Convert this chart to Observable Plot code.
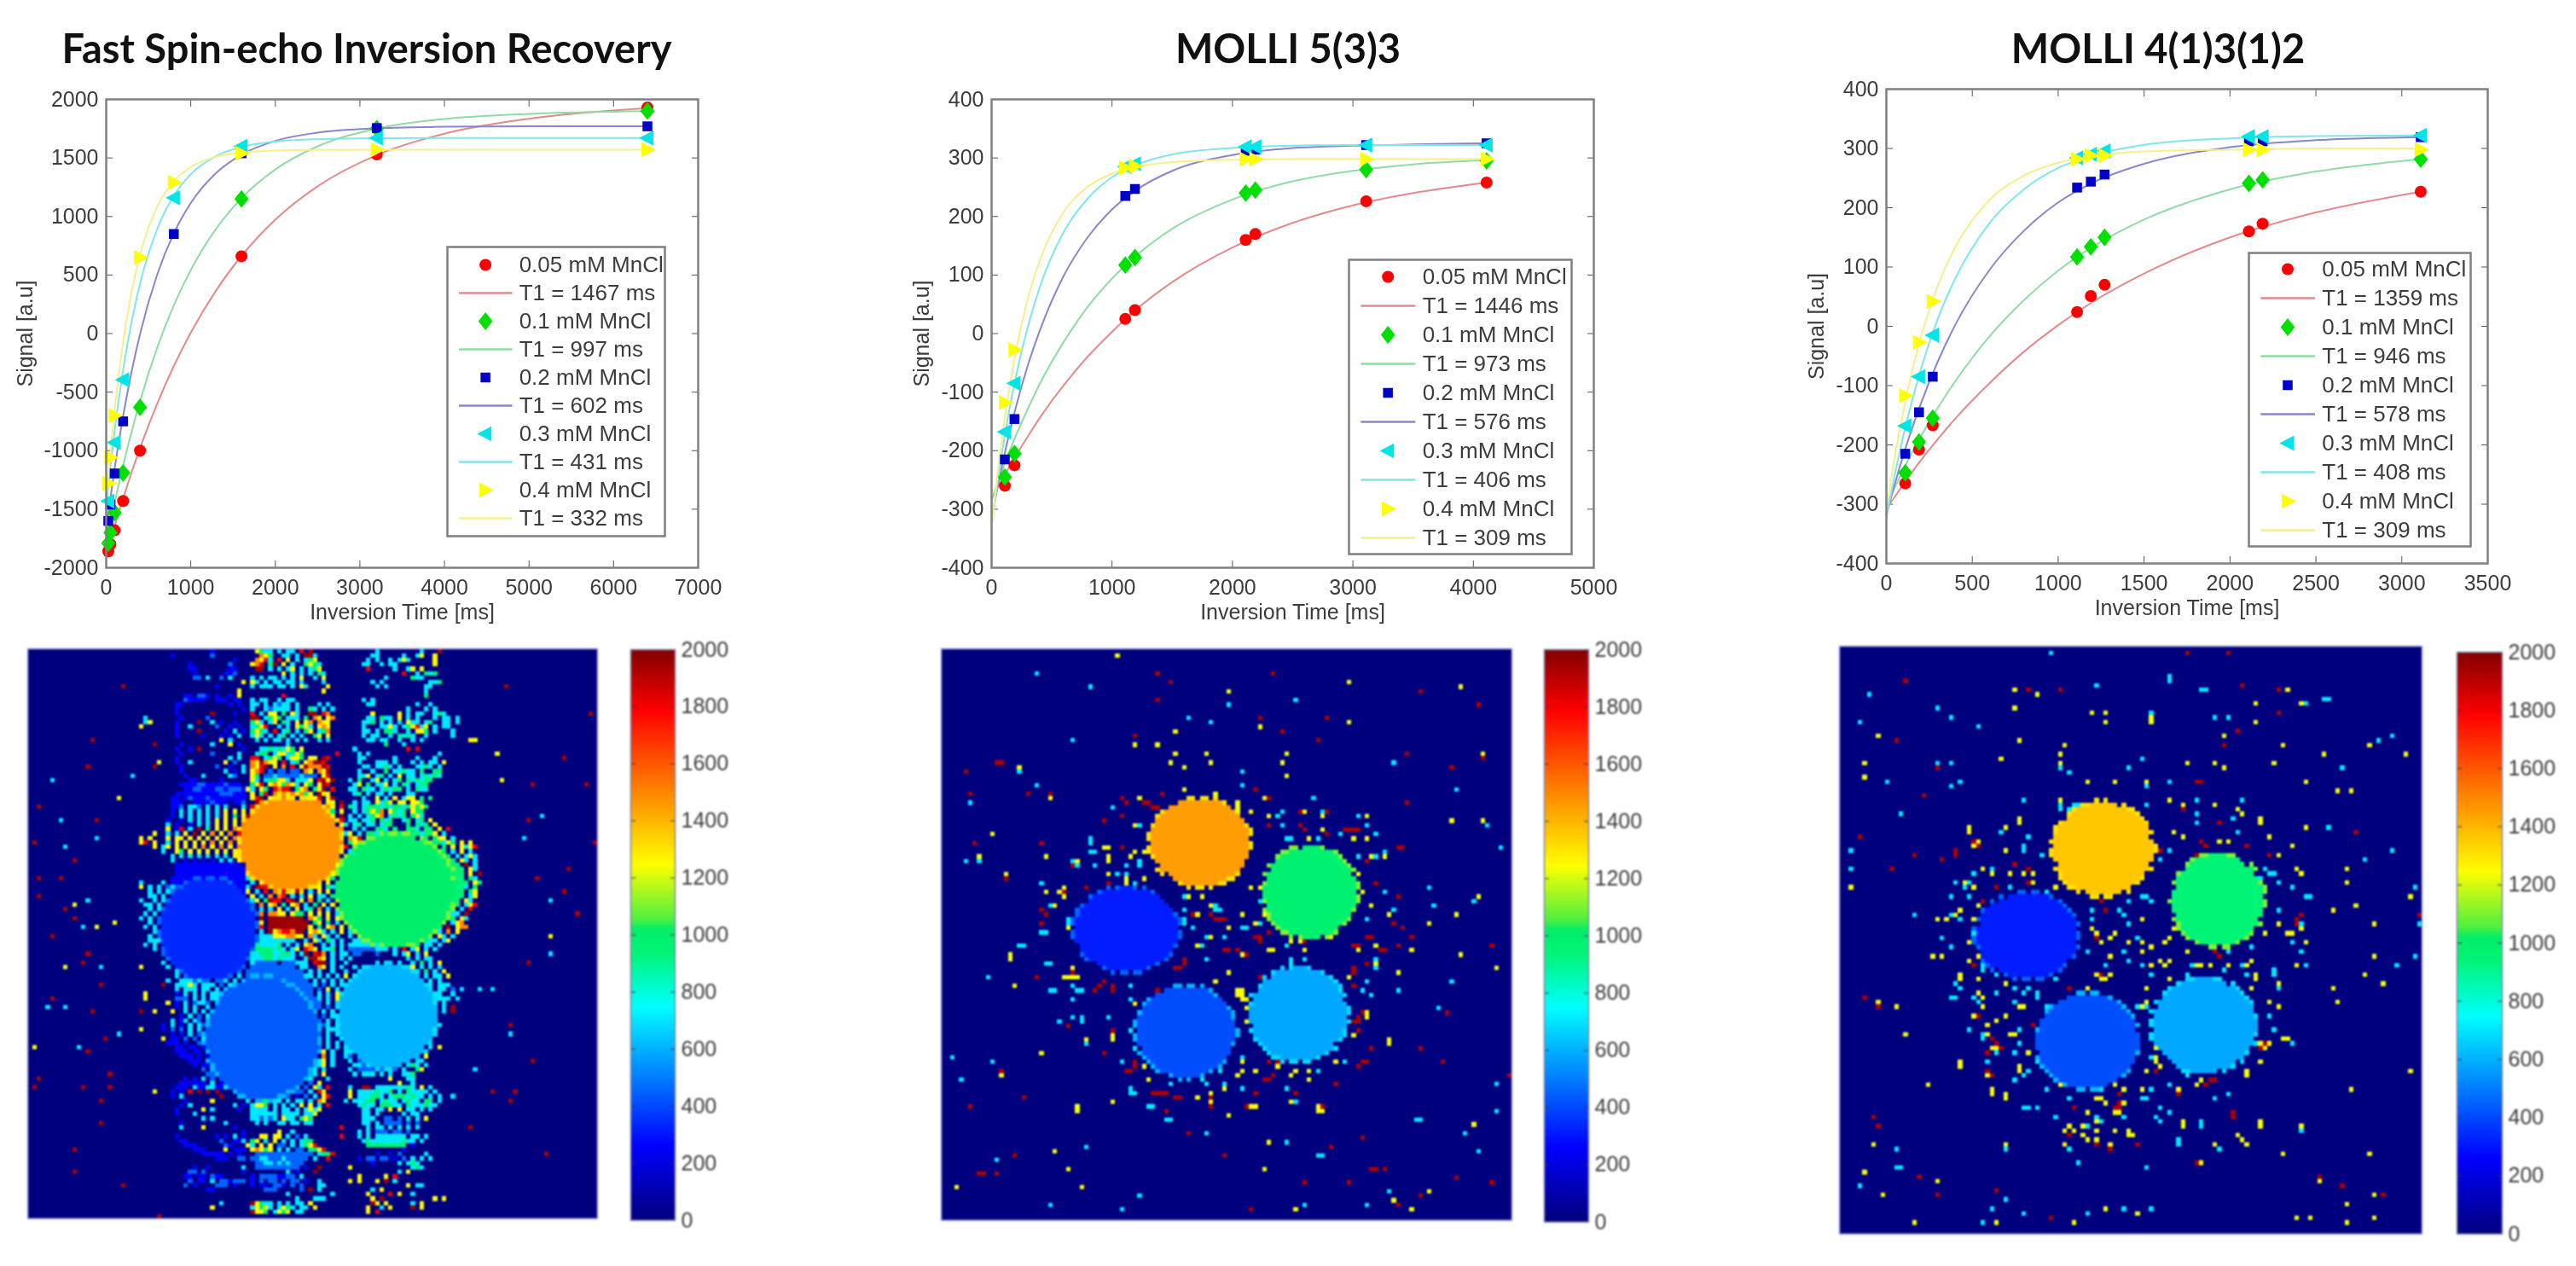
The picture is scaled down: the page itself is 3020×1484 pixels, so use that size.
<!DOCTYPE html>
<html><head><meta charset="utf-8">
<script src="https://cdn.jsdelivr.net/npm/d3@7"></script>
<script src="https://cdn.jsdelivr.net/npm/@observablehq/plot@0.6"></script>
<style>
html,body{margin:0;padding:0;background:#fff}
#page{position:relative;width:3020px;height:1484px;overflow:hidden;background:#fff}
#page svg{position:absolute;background:transparent;overflow:visible}
.title{position:absolute;top:28px;font:700 47px Lato,"Open Sans",sans-serif;color:#111;white-space:nowrap;transform:translateX(-50%);filter:blur(.5px)}
</style></head><body><div id="page"></div>
<script>
// ---------- shared labels and colours ----------
const concentrations=["0.05 mM MnCl","0.1 mM MnCl","0.2 mM MnCl","0.3 mM MnCl","0.4 mM MnCl"];
const markerColors=["#ff0000","#00e000","#0000c8","#00e6e6","#ffff00"];
const lineColors=["#e58a8a","#8fdca6","#8a86cc","#7fe6ea","#f7ef8a"];
const colorStops=[0,256,744,930,1015,1050,1240,1780,2000];
const colorRange=["#00007f","#0000ff","#00ffff","#00f578","#00ee68","#50f040","#ffff00","#ff0000","#7f0000"];
const colorbarTicks=[0,200,400,600,800,1000,1200,1400,1600,1800,2000];

// ---------- Fast Spin-echo IR ----------
const fseTitle="Fast Spin-echo Inversion Recovery";
const fseT1=[1467,997,602,431,332];
const fseXTicks=[0,1000,2000,3000,4000,5000,6000,7000];
const fseYTicks=[-2000,-1500,-1000,-500,0,500,1000,1500,2000];
const fseDotTimes=[25,50,100,200,400,800,1600,3200,6400];
const fseDots05=[-1860,-1800,-1680,-1430,-1000,null,660,1530,1930];
const fseDots01=[-1790,-1700,-1530,-1190,-630,null,1150,1750,1900];
const fseDots02=[-1600,-1460,-1195,-750,null,850,1540,1755,1770];
const fseDots03=[-1430,null,-930,-395,null,1160,1600,1670,1670];
const fseDots04=[-1280,-1060,-700,null,650,1290,1540,1570,1570];
const fseCurveTimes=[0,50,100,200,300,400,600,800,1000,1300,1600,2000,2500,3200,4000,5000,6400];
const fseCurve05=[-1900,-1771,-1646,-1408,-1186,-979,-604,-277,8,369,663,973,1258,1524,1707,1835,1925];
const fseCurve01=[-1800,-1619,-1447,-1127,-839,-577,-127,241,543,895,1157,1402,1599,1751,1833,1876,1900];
const fseCurve02=[-1680,-1405,-1152,-705,-326,-5,497,857,1115,1372,1528,1646,1716,1753,1766,1770,1770];
const fseCurve03=[-1480,-1135,-828,-310,100,425,887,1178,1360,1516,1593,1640,1660,1668,1670,1670,1670];
const fseCurve04=[-1430,-1011,-650,-72,355,671,1078,1301,1422,1510,1546,1563,1568,1570,1570,1570,1570];

// ---------- MOLLI 5(3)3 ----------
const m53Title="MOLLI 5(3)3";
const m53T1=[1446,973,576,406,309];
const m53XTicks=[0,1000,2000,3000,4000,5000];
const m53YTicks=[-400,-300,-200,-100,0,100,200,300,400];
const m53DotTimes=[110,190,1110,1190,2110,2190,3110,4110];
const m53Dots05=[-260,-225,25,40,160,170,226,258];
const m53Dots01=[-245,-205,117,130,240,245,280,295];
const m53Dots02=[-215,-146,235,247,312,314,322,325];
const m53Dots03=[-168,-85,285,290,319,319,322,322];
const m53Dots04=[-118,-28,283,286,298,298,298,298];
const m53CurveTimes=[0,50,100,200,300,400,600,800,1000,1200,1500,2000,2500,3000,3500,4110];
const m53Curve05=[-283,-263,-245,-209,-176,-144,-88,-39,3,41,88,147,189,219,240,258];
const m53Curve01=[-285,-255,-227,-175,-129,-86,-14,46,94,133,179,229,260,278,289,296];
const m53Curve02=[-315,-262,-213,-127,-55,5,99,165,212,245,278,305,317,321,323,325];
const m53Curve03=[-328,-253,-186,-75,11,79,174,231,267,288,306,317,321,322,322,322];
const m53Curve04=[-332,-238,-158,-32,59,125,208,251,273,285,293,297,298,298,298,298];

// ---------- MOLLI 4(1)3(1)2 ----------
const m41Title="MOLLI 4(1)3(1)2";
const m41T1=[1359,946,578,408,309];
const m41XTicks=[0,500,1000,1500,2000,2500,3000,3500];
const m41YTicks=[-400,-300,-200,-100,0,100,200,300,400];
const m41DotTimes=[110,190,270,1110,1190,1270,2110,2190,3110];
const m41Dots05=[-265,-208,-167,24,51,70,160,173,227];
const m41Dots01=[-247,-195,-155,117,134,150,241,247,282];
const m41Dots02=[-215,-145,-85,234,244,256,312,312,319];
const m41Dots03=[-168,-85,-15,284,290,296,320,320,322];
const m41Dots04=[-117,-27,42,282,288,288,298,298,298];
const m41CurveTimes=[0,50,100,200,300,400,600,800,1000,1200,1500,2000,2500,3110];
const m41Curve05=[-308,-287,-266,-226,-190,-156,-96,-43,2,41,89,150,192,227];
const m41Curve01=[-302,-271,-241,-186,-137,-93,-17,44,94,134,180,231,261,282];
const m41Curve02=[-318,-265,-216,-131,-59,2,95,161,209,242,274,302,314,319];
const m41Curve03=[-323,-249,-183,-73,13,80,174,231,267,288,306,317,321,322];
const m41Curve04=[-310,-219,-142,-19,69,133,213,254,276,287,295,298,300,300];

// ---------- T1 maps (128 x 128): discs hold the fitted T1 of each tube ----------
const fseDiscCols=[59,82.5,40.6,52.7,80.7];
const fseDiscRows=[43.8,54.2,63,87.5,82.5];
const fseDiscRx=[11.5,13.2,10.7,12.5,11];
const fseDiscRy=[10.3,12.5,11.5,13.5,11.5];
const m53DiscCols=[58.1,82.7,41.5,54.9,80.1];
const m53DiscRows=[43.3,54.5,62.8,85.7,81.9];
const m53DiscRx=[11.2,10.4,11.6,11,10.8];
const m53DiscRy=[9.8,10.2,9.4,10.2,10.5];
const m41DiscCols=[57.9,83.2,41.3,54.5,80.1];
const m41DiscRows=[44.2,55.3,63,86,82.6];
const m41DiscRx=[10.9,10,11.2,11.2,11.5];
const m41DiscRy=[10.1,10,9.3,10.2,10.2];
const discRimValues=[1300,1100,450,600,680];

// value of each character of the hand-read noise strips
const noiseKey={a:250,b:450,c:700,g:950,y:1250,o:1500,r:1800,d:1950};
// Left strip = columns 25.., middle strip = columns 49.., right strip = columns 71.. (rows 0..127)
const fseNoise=[
"................a.......|..ygcc.c.cc.r.d.......|.......c.........c...d.......",
".......a........b.......|...oyg..cc.c.ddc......|......cc.....c..cy..y........",
".....................a..|..oyrc.r.y.c.cgy......|.....c.c..c.cyc.....y........",
"...........a........b...|.yor.gd.y.c..gygc.....|....cc..c.cc........y........",
"...........aa.......aa..|..dd.c.c.cy.c.cgy.....|.....r.....c..cy.y...........",
"............a......aab..|........y.c.c.c.gc....|.............r..c.gcg........",
"............bb.c..b.c...|.c.c.cc.c.c.y..c.y....|.........c.....gcc...........",
".......................y|.yc.c.cc.cc.c....c....|......c.c..........ccg.......",
".................a......|.c.ccc.cc.c.yc....y...|.......c.c........cc.........",
"......................y.|.................y....|..................c...........",
"..........aa.bba.a..a.y.|........r.............|..................g..........",
"..........baaaa..aaa.aa.|.c.cc..c.cc...........|....c.c.......................",
"........aa..........a.a.|.cc.c.cbcc.c....c.c...|.....cc.........c..c..........",
"........a..............a|.c..cbcccc.c..gc.c.c..|..............c...c.c..........",
"........a.......d....a..|.r.c.yy.g.yc..dd.ro...|......y.....y.c.cc..cgc.......",
".........a.....b........|.dd.cgyg.ccc.g.oy.yo..|.....cc.gcc.y.c.c...c.cc.c.....",
".c......a....d..c.a..a..|.gyc.cy.gc.y.yo.oyy...|....ccg.c.c.c.ycc.cg..cc.c.....",
"y.......a..c.....b..a.a.|.cgyr..c.c.ygyc.yoy...|....c...ccyc.cgyrcy.c.cc.......",
"........a....d.....a.c.a|.gygc.r.cg.c.gy.cgo...|....cc.c.ggc..c.yyg.c...c......",
"........a.....a...a.a.c.|.cyc.c.cg.c.c..gy.y...|....c.cc..c.gcgc..c.....c......",
"..................y.c...|..c.c.cc.c.c.c..c.c...|.....cc.cc..c..c.c..........y..",
"...d.....a......c...y.a.|.........c............|.........g...c...............",
"........a..a.d.........a|...ccgcgcyg.y.........|..c...........r.r...........",
".........a......b.....c.|..cgg.cyycgyg.......r.|...c.c...............c.....",
"........a...........c.c.|.rr.cgyg.cyyg.yy.dr...|...cc......c....c...c.....",
"....y...a..c.......y.b..|.oydoyy.r.cg.yoddr....|...c...ccc.c...c.c.cc.y...",
"...d.....a.......b..a..c|.oyrd.y.o.r.ydooodr...|....cc.ccgc.c...ccgc.c....",
".........a.........c.a.c|.yor.b.bb.bb.oy.oyd...|...c..c..g.ccgcc.g..gg.....",
"..........a...c.....cb..|.yg.bbcbbbbbcbbb.yr...|...ccy.cg.c.y.cc.cgcgc......",
"...........aa.....a.....|.yc.cggyyc.cccy.rdyd..|.c.g..cy.c.cg.gcgcgg........",
".........aaaabbaaaabaaa.|.gyr.yoygoyc.yg.ydr...|..cy.g.ccy.c.gc.cgg.........",
"..........aabbaaabbabbba|yc.yg.rorr.gyo.gyd.r..|.cc.gcc.cgcgg.c.gcc.........",
"........aaaaaaaaaabbbaaa|.y.gr.oyoyoyogy.dyy...|..cg.c.cc.c...cc............",
".......aa.abaaabaaaaaaaa|.yrd.yodoyr.yoyyr.yd..|....c..y.c.y.cyy.g.g........",
".......aaa..aaaabaaa.aab|..dor.oyyoyoyoyoo.yy.d|..c.cc.ycgy.yy.yyg..........",
".......aab.ccb.c.c.c...c|.ryd.oooooooooyoy.oy.r|.gc.cgggcgcggcgygyg.........",
".......a.c.c.c.c.c.y.y.y|.dr.........ooo.r.yg.y|..c.cgygo.ygcg.ygg..........",
".......a.c.c.c.c.c.y.g.y|ddr.............oy.y.d|.c.c.cgyo.cgcg.gyc..........",
"......a..a.c.c.c.y.y.y.y|dr...............y.o.r|.cc.ccg.gcg..cg.cg.y........",
"......c.a..a.c.c.y.y.y.o|r..................o.y|c.cg.cc.cgg...g.gcg.y.......",
"......y.ar.c.d.g.y.y.o.y|...................r.o|..c.c..ggc.g..ggc.gg.y.r.....",
"...y..c.c.y.d.y.o.y.o.ry|....................oy|cy.c.ggcgg.cgg.ggcggy.c......",
"y.y...y.yy.y.y.y.y.y.oyy|.....................r|.oyr.c.ggggg..g..gg.gyy.c.....",
"yr.y..c.y.y.y.y.o.y.o.yo|.....................o|.gy.c.gg.ggg...gg.g.ggcyg.y.y.",
"...y.cy.y.y.y.o.y.o.y.oo|.....................y|r.oy.gggggggggggg.ggg.g.y.ycyr",
".....c..yg.y.y.y.y.y.y.y|....................dy|.cy.gg.ggggggggggggg.gg.c.y.c.",
".......c.c.c.c.c.c.c.y..|....................y.|c.yc.gggggggggggggggg.gg.c.cyc",
".......c..a.a.a.a.c.c.yc|...................y.y|.cy.ggggggggggggggggggggg.yc.c",
"........aaaaaaaaaaaaaaa.|y.................o.y.|c.cggggggggggggggggggggggg.d.c",
"........aaaaaaaaaaaaaaaa|ro...............r.oy.|ccggggggggggggggggggggggggg.yc",
"........aaaaaaaaaaaaaaaa|.ry.............y.dy..|.gggggggggggggggggggggggggg.y.d",
".......aaaaaaaaaaaaaaaaa|c.oy..........r.yg.g..|ggggggggggggggggggggggggggg.gc",
"c....c.aaaaaaaaaaaaaaaaa|.c.yoy...dr.oy.yg.y...|gggggggggggggggggggggggggggg.yg",
"y.c.c.bc.aaaaaaaaaaaaaaa|c.drrdorrdr.y.g.y.gc..|cggggggggggggggggggggggggggc.g",
"..c.c.c.aaaaaaaaaaaaaaaa|y.c.r.o.rdrdy.c.y.y.g.|.cggggggggggggggggggggggggg.gy",
"..cc.c..aaaaaaaaaaaaaaaa|.y.c.o.or.c.c.y.cc.g..|.gggggggggggggggggggggggggg.cy",
"c..c.c.aaaaaaaaaaaaaaaaa|.cy.gdrr.rd.y.o.g.c.c.|cggggggggggggggggggggggggg.yc",
".cc.c.caaaaaaaaaaaaaaaaa|.y.o.yo.g.yo.c.g.y.y.g|.ggggggggggggggggggggggggg.cyr",
"..c.c..aaaaaaaaaaaaaaaaa|.g.c.c.y.c.y.cg.o.c.g.|.gggggggggggggggggggggggc.c.r",
".c.c.c.aaaaaaaaaaaaaaaaa|y.yo.ooyy.ygg.y.y.y.c.|c.ggggggggggggggggggggg.cc.d",
"c.c...c.aaaaaaaaaaaaaaaa|.c.d.dddddddd.oyg.y.yc|..cgggggggggggggggggggc.g.yc",
"..c.c..caaaaaaaaaaaaaaaa|.o.y.ddddddddd.gy.g.c.|c.ccgggggggggggggggg.yc.cyo",
".c.c.c.caaaaaaaaaaaaaaaa|.y.r.dddddddddy.g.yo.y|.c.cgggggggggggggggg.g.d.yoo",
"...c.c.c.aaaaaaaaaaaaaaa|.y.c.dyorrodd.yoyc.c.y|.c.cgggggggggggg.c.g.c.o.y",
"..c...cc.aaaaaaaaaaaaaa.|.c.cccyyyooyy.oc.yc.c.|.c.cccggggggggcc.r.c.yc.c",
"..ccc.ccaaaaaaaaaaaaaa..|.c.cccccccc..c.yc.gc.c|..ccccccccccccc.y.gcc.cy",
".c.c.c..aaaaaaaaaaaaaa.a|.cgccccg.c.c.yo..c.c.c|.cccccccccccc.c.g.cc.c",
"...c.c..aaaaaaaaaaa..c.c|ccggggcgc.cy.roy.ccg.c|.bbbbbbccc.c.r.cy.c.c",
"........aaaaaaaaaa.cccgg|cccgggccggc.cd.rdo.c.c.|c.bb...b...c.cy.c.y..",
"........aaaaaa.cc.ccgggc|ccccggcgccc..cddoy.c.c.|.c............c.c.cc...",
".....c..aaaaa.c.ccggccc.|.cbbbbb.bbbccc.rdd.c..c|............c..c.g.c.y.",
"y.....c..aaaa.cc.ccc.cc.|.bbbbbbbbbb.cc..oy.c.c.|..c..........c.y.c.c.c",
"........c.c..b.ccc..b.c.|bbbbbbbbbbbbb.c.c..c..c|..............c.c.g.c.y.",
"........c.c.b.c.c.c.c.c.|bbbbbbbbbbbbbcc.c.c.c.y|..c...........b.c.c.cc.y",
"......c..ccccc.c.c.c.c.c|bbbbbbbbbbbbbb.c.c.c.c.|.c.c...........c.c.c.c.",
".....d..cccyc.ccc.b.c.ba|bbbbbbbbbbbbbbbc.b.c.c.|...c...........cc.cc.ccc",
"........c.ccc.cc.c.bb.ab|bbbbbbbbbbbbbbb.b.y.c.c|...........c...c.ccc.cc.b.c",
".y......a.c.c.c.cc.ccc.a|bbbbbbbbbbbbbbb.c.c.y.c|...............c.ccccc..c",
"........bbb.c.c.cc..c.bb|bbbbbbbbbbbbbbbbc.c.y.|................c.cccccc.c",
"......y.a.c.bccb.bbbb.bb|bbbbbbbbbbbbbbbbb.c...|................c.ccc.c...",
"........a.c.c..c.bbbaabb|bbbbbbbbbbbbbbbbb.b.y.|...............c.c.cc.c.d",
"d......y..c.c.c..bbbabbb|bbbbbbbbbbbbbbbb.c.c..|c...............bcccc.c.d",
".........a.c.b.c.bbbbbbb|bbbbbbbbbbbbbbbb.b.c.c.|cc.............cccc.c.",
".......c.ac.cb.c.bbaabbb|bbbbbbbbbbbbbbbbb.c.c.b|.c.............ccccc..",
".....a.c.a.c.cbb.bbbbbbb|bbbbbbbbbbbbbbbbbbc.c.c|.c...........c.ccccc.c",
".....a.b.b.c.c.bb.cbbbbb|bbbbbbbbbbbbbbbbb.cc.cc|..cc.........cc.ccccc.",
".......a.a.c.b.c.bbabbbb|bbbbbbbbbbbbbbbbb.c.cbb|...ccc.......c.ccccc.",
".....y.aa.b.b.c..bbbbbbb|bbbbbbbbbbbbbbb.c.c..cc|.bb.cc......c..c.c.c.",
"......aaa.a..b..c.bbbbbb|bbbbbbbbbbbbbbb.b.c.c.b|....ccc....cc.c.cy.",
"........aa.aa.a.b..bbbbb|bbbbbbbbbbbbbb.bb.c.c.c|.c.....ccccc.c.c.c.c.y",
"........aaa.aa.cc.bbbbbb|bbbbbbbbbbbbbb.c.y.c..c|.c.bbbbbbbb.cc.y.c",
".........aaa.a.a.bbbbbbb|bbbbbbbbbbbbbb.c.o.c..c|.b.b.b.b.bbb.c.gy.y",
"...........aaa.a..b.c.bb|bbbbbbbbbbbbb.c.cy.c...|.c.bbbb.b.bbc.c.cc",
"............a.aa.c.b.cbb|bbbbbbbbbbbb.bc.cy.c...|..ccb.bbb.b.c..gc.c",
"..............b.c.c.bbbb|bbbbbbbbbbbbbb.c.c.....|.c.bbbbbb.bb.c..gy",
"...............bb.c.cbbb|bbbbbbbbbbbb.c.c.y.....|..c.ccc.c.c..ccg.",
"..........a.a.c.b.b.bbbb|bbbbbbbbbbb.c.c...c....|..........y...cc",
".........aaaaaa.c.a.a.bb|bbbbbbbbbbb.b.b.y.....|............y..c.",
"........aaa.caaccaac.a.y|..bbbbbbbbbb.b.yc.r...|.c..dd.cccccccgc.y.c",
".......a.a.r.d.d.d...aa.|.b.a.bbbbb.bb.c.ry.....|.y.ccccgccg.c.gcccc.c.",
".......a.c........d...a.|...a.a.aab.a.b.c.yr....|.y.cccggc.cgggcgcc.c.c",
"..........a.....y.......|c.cygycc.c.cc.c.oy.....|c.cccgg.cgcc.cgcc.gg.c",
".........a.c.........c.a|.cyyg.c.c.c.y.y.c.r....|...cgcc.gggcc.gcccgcc.",
"........a.....y.c.....a.|.cccc.c.cc.c.cycy.....|....cc.cc.y.y.cc.c.c",
"........a...c...........|.cccccc.cccc.ccy......|....cc.c.....c.cc",
"..............c.c.......|.ccbcbc.ycc.gyg.......|....ccc..bb.b.c.c.y",
".........a.........c....|..c.c..cc.cc.cc.......|....cc.c.bbbb.b.b.",
".........c....y......a..|.....................r|.....c.cc.c.c.c.c.",
".......................a|.......y..c...........|...c.c.bbb.bb.b.",
"........a........a.a.c.a|...yy.yy.c.b.c.......r|...c.c.ccccccc.cc.c",
".........aa.......b..aac|.gy.c.y.c.c.cgg.......|....cgcccccccgcc.c",
"..........aaa......ba...|yc.y.y.bb.c.cgyr......|.....ggggggggg.a..",
"............aaa....y.aaa|.yoygy.c.c.bb.ggyr....|.............a.",
"..............aaaaa.a.a.|..bbbbbbbbbbbbb.cggr..|.......a..a.b.....c",
".................aaa..bb|.bbccbbbcbbbbb.c..r...|...a.bb.bb.a.b.c.c.c",
"........................|..bbccbcbcbbb.........|......a.....c.cgc",
"............a..a.......c|..bbbbbbbbbb.a..d.....|.y.............cgc",
"...........bb.b........a|.........c.a...d......|............c.y",
"..........aa.aa.baa.....|.a.bbbbaabb.c.........|...y.....y.r..",
"...........b.aa.c.bbabbb|.a.b.bb.b.bb.a..c.....|.y.y...y.d.c.....",
"..........b.a....bbb.a..|.a.aa.bba.b.b...cc....|..............y.cc",
"...............aa.......|....bbb.....b.d.c.....|......c.y...",
"........................|.........c.........c..|.....y....r.y..c",
"........................|...........c...ccc....|......y.d...........y.y",
"..................c.....|.dygcc.c.c.cc.y.......|......dy.y.....c.y",
"................y.......|.cygyc.cygc.cc.y......|.....y..c.y....d.y",
"........................|.dyyg.cygy.cc.........|.....y.r..........."
];
const fseHot=[[14,20],[13,26],[21,8],[2,35],[15,38],[1,43],[10,47],[7,51],[2,51],[2,55],[10,60],[8,58],[5,64],[13,68],[12,70],[16,75],[5,78],[14,81],[17,87],[13,90],[2,96],[1,98],[12,98],[18,95],[18,98],[16,101],[16,106],[10,112],[10,117],[21,120],[29,127],[107,8],[126,14],[120,24],[125,30],[113,30],[112,38],[127,43],[114,51],[121,49],[120,54],[123,59],[112,70],[104,99],[109,99],[108,101],[113,92],[108,84],[99,107],[116,113]];
const fsePale=[[20,33],[27,16],[29,25],[10,57],[15,62],[19,61],[8,71],[25,85],[26,78],[28,81],[1,89],[28,99],[100,20],[105,23],[106,29],[117,64]];
const fseCyan=[[26,15],[5,29],[23,28],[7,38],[8,44],[15,42],[13,56],[12,62],[16,71],[4,80],[8,80],[20,86],[11,89],[117,68],[104,76],[101,76],[108,86],[100,94],[95,100],[115,37],[111,42],[117,56]];

const m53Hot=[[48,5],[74,5],[51,7],[48,11],[107,9],[120,12],[86,15],[71,15],[43,19],[76,18],[84,20],[12,25],[13,25],[5,27],[6,32],[19,32],[24,32],[104,23],[121,24],[114,26],[104,34],[22,43],[7,43],[14,51],[8,117],[9,117],[12,117],[6,102],[18,100],[13,94],[36,90],[22,58],[22,61],[21,73],[123,66],[102,44],[103,44],[105,64],[102,66],[107,89],[112,92],[96,116],[97,116],[99,116],[115,118],[123,119],[91,119],[81,119],[87,111],[94,109],[63,113],[55,108],[16,113],[107,122],[102,124],[69,125],[127,95],[113,81],[40,33],[45,34],[47,35],[49,32],[70,31],[73,33],[80,36],[86,36],[92,40],[90,40],[95,42],[36,38],[40,44],[37,46],[27,54],[32,53],[60,59],[56,59],[61,60],[64,67],[66,67],[59,69],[70,64],[71,65],[53,71],[54,70],[92,66],[96,64],[98,67],[101,61],[103,62],[95,70],[92,72],[92,75],[95,82],[93,83],[95,92],[94,92],[75,93],[74,95],[79,94],[73,96],[48,99],[47,99],[53,100],[60,100],[69,102],[41,94],[43,93],[38,86],[85,102],[38,101],[35,75],[38,75],[29,72]];
const m53HotExtra=[[41,34],[46,34],[48,35],[36,38],[40,37],[29,48],[37,52],[23,59],[36,74],[34,76],[38,76],[48,76],[28,84],[38,85],[42,94],[43,92],[48,99],[49,99],[50,99],[52,100],[60,99],[50,103],[60,102],[63,67],[66,67],[68,68],[52,71],[54,69],[62,60],[63,60],[71,73],[93,66],[92,71],[93,82],[94,81],[92,83],[93,85],[95,92],[93,93],[96,89],[73,92],[75,92],[72,96],[70,99],[79,99],[88,97],[91,40],[90,40],[93,40],[81,40],[80,39],[86,41],[73,39],[95,47],[97,52],[95,64],[99,67],[102,55],[81,65],[73,63],[70,64],[71,64],[68,102],[85,102]];
const m53Pale=[[39,1],[91,7],[91,16],[64,9],[116,8],[52,18],[71,17],[43,21],[48,21],[52,23],[59,23],[51,25],[54,26],[60,25],[77,23],[76,25],[77,28],[17,26],[24,33],[121,23],[114,38],[121,38],[11,41],[8,46],[14,50],[23,46],[37,47],[41,51],[120,55],[115,59],[109,61],[15,68],[15,69],[16,75],[116,68],[124,71],[29,73],[32,87],[38,86],[100,87],[22,90],[13,95],[30,102],[119,106],[73,110],[25,112],[28,116],[31,120],[3,120],[72,116],[101,123],[105,125],[79,125],[109,121],[44,33],[54,31],[61,32],[66,36],[73,37],[85,37],[95,37],[82,42],[43,39],[46,41],[37,44],[42,46],[30,47],[27,55],[26,54],[25,57],[29,61],[60,57],[67,59],[73,58],[74,60],[57,66],[60,64],[67,68],[74,67],[80,65],[83,64],[97,66],[105,67],[102,72],[97,70],[29,71],[27,73],[43,79],[67,76],[68,80],[66,77],[68,78],[95,81],[92,86],[38,87],[43,87],[46,96],[60,99],[64,104],[67,92],[70,94],[66,95],[82,94],[78,95],[85,103]];
const m53PaleExtra=[[66,35],[66,34],[49,37],[45,45],[43,45],[37,46],[36,44],[37,50],[41,52],[45,51],[27,53],[23,54],[28,62],[29,71],[28,73],[30,73],[38,87],[43,79],[30,103],[38,101],[45,93],[61,74],[64,72],[67,77],[67,78],[66,76],[68,83],[58,55],[55,55],[57,59],[51,60],[64,62],[60,64],[73,67],[71,53],[69,53],[72,59],[74,60],[70,61],[81,67],[78,65],[87,64],[93,50],[94,54],[96,57],[96,46],[99,46],[100,59],[93,67],[91,73],[100,87],[100,88],[95,82],[88,92],[79,94],[82,96],[75,93],[70,94],[67,94],[69,102],[70,102],[84,102],[84,103],[78,101],[64,104],[57,100],[60,101],[63,98],[85,40],[85,37],[81,36],[92,42],[95,42],[69,36],[72,33]];
const m53Cyan=[[21,5],[33,8],[64,12],[79,11],[55,15],[60,16],[29,20],[17,27],[21,30],[101,25],[115,31],[6,34],[5,47],[8,47],[125,44],[122,39],[119,56],[18,66],[10,73],[114,74],[102,76],[111,80],[31,82],[29,78],[26,83],[2,91],[11,92],[4,96],[124,97],[124,103],[50,105],[51,105],[106,105],[107,105],[59,108],[77,110],[32,111],[12,114],[84,113],[85,113],[117,108],[120,112],[24,124],[40,125],[44,122],[95,124],[81,124],[100,121],[33,42],[34,45],[30,48],[22,52],[22,63],[28,61],[28,60],[17,66],[23,70],[25,76],[30,76],[41,50],[44,48],[47,41],[54,55],[61,57],[54,58],[59,64],[77,66],[85,36],[97,71],[97,41],[99,45],[97,46],[109,53],[110,57],[101,58],[89,41],[93,37],[42,75],[43,84],[43,99],[47,102],[67,98],[58,96],[94,76],[90,92],[78,69],[81,69],[52,50],[53,52],[71,56],[72,53],[71,61],[76,36],[67,27],[67,30]];
const m53CyanExtra=[[33,45],[34,45],[30,47],[29,47],[34,48],[41,48],[44,47],[33,43],[38,35],[44,39],[39,50],[43,52],[24,57],[29,60],[23,63],[24,70],[25,76],[24,76],[29,75],[31,76],[42,78],[37,82],[29,82],[31,83],[32,87],[32,88],[44,87],[42,85],[43,89],[40,92],[42,98],[42,99],[46,102],[51,105],[59,108],[62,58],[61,58],[54,60],[54,61],[56,62],[58,66],[59,69],[63,64],[67,62],[68,62],[77,42],[78,42],[84,42],[93,46],[75,37],[76,39],[95,37],[95,39],[95,60],[99,54],[97,69],[96,77],[95,74],[78,69],[78,70],[77,98],[84,94],[79,101],[83,33],[85,37],[63,97],[62,94],[59,97],[51,97],[67,91]];

const m41Hot=[[14,7],[12,20],[21,26],[18,32],[4,41],[16,45],[22,46],[11,48],[25,44],[5,76],[8,78],[7,102],[8,104],[17,115],[21,119],[34,118],[46,124],[48,9],[41,9],[76,1],[85,1],[96,9],[88,8],[96,14],[84,21],[87,18],[105,115],[110,117],[119,119],[86,101],[78,112],[59,109],[56,108],[49,105],[61,99],[61,97],[74,96],[81,94],[93,86],[92,87],[127,58],[100,59],[101,58],[32,92],[33,85],[34,86],[40,78],[57,71],[41,48],[31,55],[29,42],[78,29],[79,29],[113,40],[57,55],[82,66],[56,63],[79,42],[89,43],[94,45],[100,48]];
const m41HotExtra=[[46,44],[48,40],[41,51],[34,52],[38,47],[25,45],[30,43],[31,57],[29,69],[50,74],[40,78],[30,80],[42,82],[32,88],[35,87],[33,93],[61,100],[60,100],[62,99],[56,107],[59,109],[65,108],[50,106],[51,100],[54,101],[74,96],[74,97],[82,94],[78,95],[80,95],[92,87],[93,86],[92,86],[69,86],[69,92],[81,69],[83,67],[58,57],[59,71],[70,44],[80,43],[78,45],[75,35],[83,38],[100,60],[86,102]];
const m41Pale=[[8,19],[5,25],[5,28],[2,52],[38,9],[43,10],[38,13],[39,20],[35,24],[49,21],[48,23],[48,25],[58,16],[55,14],[58,14],[68,15],[68,16],[84,19],[97,21],[91,16],[91,12],[106,23],[101,12],[98,9],[124,23],[116,21],[109,31],[112,31],[102,29],[84,26],[82,25],[76,25],[95,25],[67,29],[60,29],[54,29],[48,33],[28,39],[30,42],[36,39],[39,37],[102,39],[99,43],[92,37],[82,34],[85,42],[111,48],[111,51],[100,48],[108,57],[113,56],[102,64],[99,62],[96,60],[117,60],[125,54],[115,71],[108,74],[119,73],[109,77],[117,67],[21,59],[23,59],[20,67],[22,67],[14,84],[12,78],[8,77],[26,90],[19,95],[33,96],[36,97],[125,92],[112,96],[97,85],[7,108],[5,114],[21,116],[9,119],[16,125],[34,125],[51,125],[58,122],[65,123],[103,124],[100,124],[111,125],[117,124],[111,121],[117,119],[105,116],[87,106],[82,108],[79,112],[97,110],[116,110],[101,104],[92,103],[36,108],[75,103],[63,105],[53,104],[56,103],[40,78],[31,76],[30,72],[26,71],[34,66],[28,64],[27,51],[30,56],[25,58],[40,49],[42,49],[55,61],[57,64],[60,62],[63,64],[56,71],[57,72],[68,65],[70,68],[72,68],[76,66],[79,69],[91,71],[96,73],[94,77],[96,78],[92,86],[94,86],[89,92],[92,90],[79,94],[74,96],[67,92],[69,90],[66,78],[67,77],[38,84],[39,91],[33,87],[32,84],[34,81],[39,78],[56,98],[57,98],[61,101],[62,99],[50,104],[53,106],[56,105],[59,108],[49,108]];
const m41PaleExtra=[[39,38],[31,48],[33,49],[37,49],[42,51],[29,52],[47,52],[29,43],[36,44],[28,40],[31,57],[26,57],[29,59],[28,68],[30,67],[26,72],[30,75],[36,73],[31,78],[40,78],[29,80],[36,80],[32,82],[37,84],[34,87],[41,88],[26,91],[39,91],[39,92],[32,93],[33,97],[36,98],[48,95],[56,62],[59,63],[57,64],[59,67],[68,69],[71,69],[72,72],[58,72],[59,71],[54,74],[67,74],[66,64],[66,66],[66,59],[72,63],[71,64],[73,61],[78,69],[81,69],[85,69],[89,69],[90,68],[91,72],[90,74],[93,62],[98,62],[92,90],[93,87],[98,85],[89,93],[89,92],[69,89],[70,91],[69,87],[78,95],[66,96],[62,96],[60,95],[58,99],[60,101],[54,101],[60,105],[51,105],[49,105],[54,107],[56,107],[63,106],[64,106],[75,104],[88,107],[89,108],[92,104],[96,45],[94,41],[92,38],[87,35],[88,36],[82,34],[83,42],[85,42],[75,34],[72,33],[75,41],[73,40],[101,61],[100,69],[101,49]];
const m41Cyan=[[6,10],[4,16],[21,13],[24,15],[30,17],[21,25],[24,25],[10,29],[24,30],[26,29],[13,36],[2,44],[2,48],[16,58],[12,109],[4,117],[13,113],[12,113],[46,1],[72,6],[72,7],[56,8],[79,9],[80,9],[82,15],[85,15],[68,14],[102,12],[107,11],[106,11],[118,20],[121,19],[110,26],[107,39],[121,44],[115,46],[126,52],[122,69],[126,67],[127,60],[102,69],[102,54],[103,54],[99,64],[101,60],[31,125],[40,123],[62,122],[68,122],[54,123],[67,113],[52,112],[33,122],[36,120],[74,107],[79,103],[40,100],[43,100],[56,102],[69,102],[48,26],[50,27],[63,26],[66,24],[72,29],[67,30],[40,33],[48,34],[51,34],[40,43],[25,51],[28,51],[24,54],[22,63],[31,69],[25,73],[25,76],[30,77],[38,74],[40,75],[43,75],[63,55],[67,54],[55,59],[63,60],[65,63],[68,71],[66,69],[85,66],[88,69],[95,70],[95,49],[93,48],[92,50],[101,66],[76,93],[68,89],[64,80],[79,92],[38,88],[40,93],[34,88],[31,84],[57,96]];
const m41CyanExtra=[[48,35],[50,35],[52,34],[67,34],[78,33],[78,36],[78,38],[88,33],[86,37],[87,40],[35,40],[41,41],[40,44],[44,45],[33,48],[29,49],[27,52],[28,54],[37,52],[45,53],[35,55],[24,58],[29,59],[26,59],[29,62],[24,65],[31,70],[34,71],[26,74],[24,76],[29,76],[34,75],[38,77],[41,74],[47,72],[43,76],[45,78],[32,82],[28,83],[31,85],[39,83],[39,86],[32,90],[43,90],[41,92],[38,94],[45,96],[50,98],[41,100],[43,100],[47,102],[57,103],[56,103],[62,102],[54,104],[36,109],[50,109],[61,57],[62,58],[54,66],[62,66],[63,68],[58,69],[55,57],[66,54],[68,55],[70,46],[72,44],[77,69],[76,71],[84,70],[89,71],[96,74],[95,71],[96,51],[94,49],[96,57],[90,65],[99,52],[94,80],[95,83],[99,86],[68,96],[67,98],[72,95],[70,100],[70,103],[72,101],[79,104],[74,108],[85,97],[82,98],[83,109],[101,105],[66,98],[67,78],[65,78]];

// ---------- drawing ----------
const jet={type:"linear",domain:colorStops,range:colorRange,interpolate:"rgb",clamp:true};
const axisFont={fontFamily:"'Liberation Sans',Arial,sans-serif",fontSize:"25px",color:"#3c3c3c"};
const page=document.getElementById("page");
function place(svg,left,top,blur){
  svg.style.left=left+"px";svg.style.top=top+"px";svg.style.filter=`blur(${blur}px)`;
  page.appendChild(svg);
}
function rows(times,values){return times.map((t,i)=>({t,v:values[i]})).filter(d=>d.v!=null);}
function triangle(dir){return {draw(c,size){const s=Math.sqrt(size)/1.5;c.moveTo(dir*s*1.1,0);c.lineTo(-dir*s*.8,-s);c.lineTo(-dir*s*.8,s);c.closePath();}};}
const softDiamond={draw(c,size){const s=Math.sqrt(size)/1.6;c.moveTo(0,-s*1.25);c.lineTo(s,0);c.lineTo(0,s*1.25);c.lineTo(-s,0);c.closePath();}};
const markerSymbols=["circle",softDiamond,"square",triangle(-1),triangle(1)];
const markerRadii=[7,7.5,6.5,7.5,7.5];

function curvePanel(b,s){
  const ml=110,mb=90,mt=12,mr=60;
  const fw=b.right-b.left,fh=b.bottom-b.top;
  const marks=[
    Plot.axisX({anchor:"bottom",ticks:s.xTicks,tickSize:0,tickPadding:14,tickFormat:d=>String(d),label:"Inversion Time [ms]",labelAnchor:"center",labelArrow:"none",labelOffset:60}),
    Plot.axisX({anchor:"bottom",ticks:s.xTicks,tickSize:-8,tickFormat:()=>"",label:null,stroke:"#555"}),
    Plot.axisX({anchor:"top",ticks:s.xTicks,tickSize:-8,tickFormat:()=>"",label:null,stroke:"#555"}),
    Plot.axisY({anchor:"left",ticks:s.yTicks,tickSize:0,tickPadding:9,tickFormat:d=>String(d),label:"Signal [a.u]",labelAnchor:"center",labelArrow:"none",labelOffset:s.yLabelOffset}),
    Plot.axisY({anchor:"left",ticks:s.yTicks,tickSize:-8,tickFormat:()=>"",label:null,stroke:"#555"}),
    Plot.axisY({anchor:"right",ticks:s.yTicks,tickSize:-8,tickFormat:()=>"",label:null,stroke:"#555"}),
  ];
  s.curves.forEach((c,i)=>{
    marks.push(Plot.line(rows(s.curveTimes,c),{x:"t",y:"v",stroke:lineColors[i],strokeWidth:2,curve:"monotone-x",clip:true}));
  });
  s.dots.forEach((c,i)=>{
    marks.push(Plot.dot(rows(s.dotTimes,c),{x:"t",y:"v",fill:markerColors[i],stroke:null,r:markerRadii[i],symbol:markerSymbols[i]}));
  });
  marks.push(Plot.frame({stroke:"#808080",strokeWidth:2.5}));
  const svg=Plot.plot({width:fw+ml+mr,height:fh+mt+mb,marginLeft:ml,marginRight:mr,marginTop:mt,marginBottom:mb,
    x:{domain:s.xDomain},y:{domain:s.yDomain},style:axisFont,marks});
  place(svg,b.left-ml,b.top-mt,.7);
}
function legendPanel(b,t1){
  const labels=[];const rowsData=[];
  concentrations.forEach((c,i)=>{
    labels.push(c,`T1 = ${t1[i]} ms`);
    rowsData.push({key:0,series:i,label:c,row:c},{key:1,series:i,label:`T1 = ${t1[i]} ms`,row:`T1 = ${t1[i]} ms`});
  });
  const marks=[Plot.frame({fill:"#fff",stroke:"#808080",strokeWidth:2.5})];
  rowsData.filter(d=>d.key===1).forEach(d=>{
    marks.push(Plot.ruleY([d.row],{x1:.055,x2:.3,stroke:lineColors[d.series],strokeWidth:2.5}));
  });
  rowsData.filter(d=>d.key===0).forEach(d=>{
    marks.push(Plot.dot([d.row],{x:[.175],y:[d.row],fill:markerColors[d.series],stroke:null,r:markerRadii[d.series],symbol:markerSymbols[d.series]}));
  });
  marks.push(Plot.text(rowsData,{x:()=>.33,y:"row",text:"label",textAnchor:"start",fill:"#3c3c3c",fontSize:26}));
  const svg=Plot.plot({width:b.right-b.left,height:b.bottom-b.top,margin:0,marginTop:0,marginBottom:0,marginLeft:0,marginRight:0,
    x:{domain:[0,1],axis:null},y:{type:"point",domain:labels,padding:.5,axis:null},style:axisFont,marks});
  place(svg,b.left,b.top,.7);
}
function buildMap(discs,hot,pale,cyan,noise){
  const n=128,v=new Array(n*n).fill(0);
  const set=(c,r,x)=>{if(c>=0&&c<n&&r>=0&&r<n)v[r*n+c]=x;};
  if(noise) noise.forEach((line,r)=>{
    const parts=line.split("|");
    [25,49,71].forEach((start,k)=>{
      [...(parts[k]||"")].forEach((ch,i)=>{if(noiseKey[ch]&&start+i<n)set(start+i,r,noiseKey[ch]);});
    });
  });
  hot.forEach(([c,r])=>set(c,r,1920));
  cyan.forEach(([c,r])=>set(c,r,700));
  pale.forEach(([c,r])=>set(c,r,1230));
  discs.forEach(d=>{
    for(let r=0;r<n;r++)for(let c=0;c<n;c++){
      const e=Math.hypot((c+.5-d.c)/d.rx,(r+.5-d.r)/d.ry);
      if(e<=1)set(c,r,d.v);
      else if(e<=1+.75/d.rx&&(c+2*r)%3!==0)set(c,r,d.rim);
    }
  });
  return v;
}
function mapPanel(b,values){
  const m=1;
  const svg=Plot.plot({width:b.right-b.left+2*m,height:b.bottom-b.top+2*m,margin:m,marginTop:m,marginBottom:m,marginLeft:m,marginRight:m,
    x:{domain:[0,128],axis:null},y:{domain:[0,128],reverse:true,axis:null},color:jet,
    marks:[
      Plot.raster(values,{width:128,height:128,x1:0,x2:128,y1:0,y2:128,imageRendering:"pixelated"}),
      Plot.frame({stroke:"#9aa2dc",strokeWidth:1.5})
    ]});
  place(svg,b.left-m,b.top-m,1.3);
}
function colorbarPanel(b){
  const levels=d3.range(0,2000,10);
  const mr=90;
  const svg=Plot.plot({width:b.right-b.left+mr,height:b.bottom-b.top+24,marginLeft:0,marginRight:mr,marginTop:12,marginBottom:12,
    x:{domain:[0,1],axis:null},y:{domain:[0,2000]},color:jet,style:axisFont,
    marks:[
      Plot.raster(levels,{width:1,height:levels.length,x1:0,x2:1,y1:0,y2:2000}),
      Plot.axisY({anchor:"right",ticks:colorbarTicks,tickSize:0,tickPadding:7,tickFormat:d=>String(d),label:null,textAnchor:"start"}),
      Plot.axisY({anchor:"right",ticks:colorbarTicks,tickSize:-6,tickFormat:()=>"",label:null,stroke:"#334"}),
      Plot.axisY({anchor:"left",ticks:colorbarTicks,tickSize:-6,tickFormat:()=>"",label:null,stroke:"#334"}),
      Plot.frame({stroke:"#8088a8",strokeWidth:1.5})
    ]});
  place(svg,b.left,b.top-12,.8);
}
function title(text,center){
  const d=document.createElement("div");d.className="title";d.textContent=text;d.style.left=center+"px";page.appendChild(d);
}
function discsFrom(cols,rows_,rx,ry,t1){return cols.map((c,i)=>({c,r:rows_[i],rx:rx[i],ry:ry[i],v:t1[i],rim:discRimValues[i]}));}

// order of the disc arrays: 0.05, 0.1, 0.4, 0.3, 0.2 mM positions on the phantom
const orderT1=t=>[t[0],t[1],t[4],t[3],t[2]];

title(fseTitle,430);title(m53Title,1510);title(m41Title,2530);

curvePanel({left:124,right:818,top:116,bottom:665},{xDomain:[0,7000],yDomain:[-2000,2000],yLabelOffset:104,xTicks:fseXTicks,yTicks:fseYTicks,curveTimes:fseCurveTimes,curves:[fseCurve05,fseCurve01,fseCurve02,fseCurve03,fseCurve04],dotTimes:fseDotTimes,dots:[fseDots05,fseDots01,fseDots02,fseDots03,fseDots04]});
curvePanel({left:1162,right:1868,top:116,bottom:665},{xDomain:[0,5000],yDomain:[-400,400],yLabelOffset:91,xTicks:m53XTicks,yTicks:m53YTicks,curveTimes:m53CurveTimes,curves:[m53Curve05,m53Curve01,m53Curve02,m53Curve03,m53Curve04],dotTimes:m53DotTimes,dots:[m53Dots05,m53Dots01,m53Dots02,m53Dots03,m53Dots04]});
curvePanel({left:2211,right:2916,top:104,bottom:660},{xDomain:[0,3500],yDomain:[-400,400],yLabelOffset:91,xTicks:m41XTicks,yTicks:m41YTicks,curveTimes:m41CurveTimes,curves:[m41Curve05,m41Curve01,m41Curve02,m41Curve03,m41Curve04],dotTimes:m41DotTimes,dots:[m41Dots05,m41Dots01,m41Dots02,m41Dots03,m41Dots04]});

legendPanel({left:524,right:779,top:289,bottom:628},fseT1);
legendPanel({left:1581,right:1842,top:304,bottom:649},m53T1);
legendPanel({left:2636,right:2896,top:296,bottom:640},m41T1);

mapPanel({left:32,right:700,top:760,bottom:1428},buildMap(discsFrom(fseDiscCols,fseDiscRows,fseDiscRx,fseDiscRy,orderT1(fseT1)),fseHot,fsePale,fseCyan,fseNoise));
mapPanel({left:1103,right:1772,top:760,bottom:1430},buildMap(discsFrom(m53DiscCols,m53DiscRows,m53DiscRx,m53DiscRy,orderT1(m53T1)),[...m53Hot,...m53HotExtra],[...m53Pale,...m53PaleExtra],[...m53Cyan,...m53CyanExtra]));
mapPanel({left:2156,right:2839,top:757,bottom:1446},buildMap(discsFrom(m41DiscCols,m41DiscRows,m41DiscRx,m41DiscRy,orderT1(m41T1)),[...m41Hot,...m41HotExtra],[...m41Pale,...m41PaleExtra],[...m41Cyan,...m41CyanExtra]));

colorbarPanel({left:739,right:791,top:761,bottom:1430});
colorbarPanel({left:1810,right:1862,top:761,bottom:1432});
colorbarPanel({left:2880,right:2933,top:764,bottom:1446});
</script></body></html>
